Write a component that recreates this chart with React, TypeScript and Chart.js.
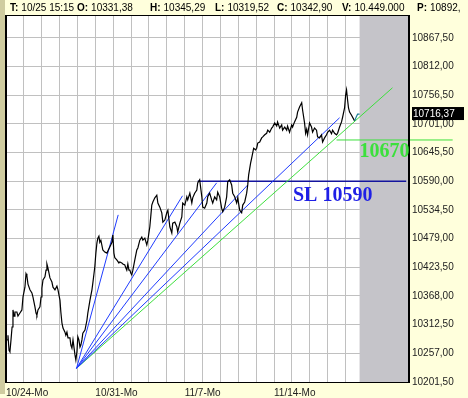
import React, { useEffect, useRef } from 'react';
import { Chart, registerables } from 'chart.js';

Chart.register(...registerables);

// ---- data ----
const headerKeys = ['T:', 'O:', 'H:', 'L:', 'C:', 'V:', 'P:'];
const headerValues = ['10/25 15:15', '10331,38', '10345,29', '10319,52', '10342,90', '10.449.000', '10892,'];

const dateTickDays = [0, 5, 10, 15];
const dateTickLabels = ['10/24-Mo', '10/31-Mo', '11/7-Mo', '11/14-Mo'];

const priceTicks = [10201.5, 10257, 10312.5, 10368, 10423.5, 10479, 10534.5, 10590, 10645.5, 10701, 10756.5, 10812, 10867.5];
const priceMin = 10201.5;
const priceMax = 10910;
const dayMax = 22.5;

const priceDays = [
  0.06, 0.11, 0.17, 0.22, 0.28, 0.34, 0.39, 0.45, 0.50, 0.61,
  0.67, 0.78, 0.89, 0.95, 1.06, 1.12, 1.17, 1.23, 1.34, 1.45,
  1.51, 1.62, 1.68, 1.73, 1.79, 1.90, 1.96, 2.01, 2.07, 2.18,
  2.24, 2.29, 2.35, 2.46, 2.57, 2.63, 2.74, 2.85, 2.91, 3.02,
  3.07, 3.13, 3.19, 3.30, 3.35, 3.41, 3.47, 3.58, 3.63, 3.69,
  3.75, 3.86, 3.91, 3.97, 4.02, 4.08, 4.14, 4.19, 4.25, 4.30,
  4.42, 4.53, 4.58, 4.70, 4.81, 4.86, 4.97, 5.03, 5.09, 5.14,
  5.20, 5.25, 5.31, 5.42, 5.53, 5.65, 5.70, 5.81, 5.93, 5.98,
  6.04, 6.09, 6.20, 6.32, 6.37, 6.48, 6.54, 6.65, 6.71, 6.76,
  6.82, 6.88, 6.93, 6.99, 7.04, 7.10, 7.21, 7.32, 7.38, 7.49,
  7.60, 7.66, 7.77, 7.88, 7.94, 8.05, 8.11, 8.16, 8.22, 8.33,
  8.44, 8.50, 8.61, 8.72, 8.78, 8.89, 9.00, 9.06, 9.17, 9.28,
  9.33, 9.45, 9.56, 9.61, 9.73, 9.84, 9.89, 10.01, 10.12, 10.17,
  10.29, 10.40, 10.45, 10.56, 10.68, 10.73, 10.84, 10.96, 11.01, 11.12,
  11.24, 11.29, 11.40, 11.51, 11.57, 11.68, 11.79, 11.85, 11.96, 12.07,
  12.13, 12.24, 12.35, 12.41, 12.52, 12.63, 12.69, 12.80, 12.91, 12.97,
  13.08, 13.19, 13.25, 13.36, 13.47, 13.53, 13.58, 13.69, 13.75, 13.81,
  13.86, 13.97, 14.03, 14.09, 14.20, 14.31, 14.37, 14.48, 14.59, 14.65,
  14.76, 14.87, 14.92, 15.04, 15.15, 15.20, 15.32, 15.43, 15.48, 15.60,
  15.71, 15.76, 15.87, 15.99, 16.04, 16.15, 16.27, 16.32, 16.43, 16.55,
  16.60, 16.71, 16.77, 16.83, 16.88, 16.99, 17.10, 17.16, 17.27, 17.38,
  17.44, 17.55, 17.66, 17.72, 17.83, 17.94, 18.00, 18.11, 18.22, 18.28,
  18.39, 18.50, 18.56, 18.67, 18.78, 18.84, 18.95, 19.01, 19.06, 19.12,
  19.17, 19.23, 19.34, 19.40, 19.51, 19.62, 19.68, 19.79,
];

const priceValues = [
  10283, 10292, 10263, 10260, 10283, 10308, 10341, 10329, 10337, 10337,
  10329, 10335, 10341, 10366, 10385, 10411, 10407, 10391, 10380, 10374,
  10366, 10347, 10335, 10331, 10341, 10347, 10366, 10383, 10399, 10405,
  10418, 10430, 10422, 10403, 10395, 10385, 10380, 10387, 10380, 10360,
  10337, 10316, 10306, 10298, 10292, 10298, 10287, 10287, 10273, 10267,
  10283, 10254, 10244, 10260, 10289, 10283, 10269, 10273, 10283, 10296,
  10302, 10321, 10335, 10360, 10380, 10393, 10424, 10451, 10471, 10480,
  10484, 10472, 10476, 10457, 10453, 10451, 10455, 10463, 10472, 10486,
  10451, 10442, 10438, 10432, 10434, 10432, 10430, 10428, 10422, 10418,
  10430, 10418, 10418, 10412, 10409, 10418, 10438, 10457, 10461, 10476,
  10482, 10476, 10480, 10467, 10476, 10502, 10525, 10544, 10550, 10558,
  10563, 10548, 10540, 10529, 10511, 10515, 10529, 10534, 10502, 10490,
  10509, 10511, 10502, 10492, 10509, 10521, 10548, 10544, 10560, 10554,
  10567, 10548, 10558, 10567, 10573, 10587, 10593, 10560, 10540, 10538,
  10548, 10560, 10567, 10554, 10548, 10560, 10554, 10569, 10560, 10538,
  10531, 10540, 10560, 10589, 10593, 10583, 10567, 10560, 10548, 10558,
  10534, 10529, 10544, 10550, 10567, 10583, 10602, 10625, 10635, 10645,
  10654, 10651, 10654, 10664, 10666, 10674, 10676, 10680, 10683, 10689,
  10685, 10693, 10695, 10703, 10697, 10705, 10693, 10699, 10689, 10695,
  10689, 10697, 10685, 10699, 10695, 10705, 10714, 10724, 10734, 10742,
  10728, 10703, 10683, 10691, 10680, 10703, 10695, 10685, 10693, 10689,
  10676, 10674, 10680, 10666, 10674, 10680, 10685, 10689, 10682, 10689,
  10683, 10680, 10683, 10695, 10705, 10714, 10732, 10757, 10767, 10747,
  10732, 10724, 10718, 10714, 10707, 10716, 10720, 10720,
];

const lastPrice = 10716.37;

const fanOriginDay = 3.95;
const fanOriginValue = 10228;
const fanEndDays = [6.28, 9.88, 11.79, 13.53, 18.67];
const fanEndValues = [10525, 10562, 10587, 10583, 10713];

const trendEndDay = 21.63;
const trendEndValue = 10771;

const stopLevel = 10590;
const stopStartDay = 10.73;
const stopEndDay = 22.4;

const targetLevel = 10670;
const targetStartDay = 18.5;
const targetEndDay = 25;

const fmt = (v: number) => v.toFixed(2).replace('.', ',');

const SANS = '"Liberation Sans", Arial, sans-serif';
const SERIF = '"Liberation Serif", "Times New Roman", serif';

export default function App() {
  const ref = useRef<HTMLCanvasElement>(null);

  useEffect(() => {
    const canvas = ref.current!;
    const futureStart = priceDays[priceDays.length - 1];

    const decorPlugin = {
      id: 'decor',
      beforeDraw(chart: any) {
        const { ctx, chartArea } = chart;
        ctx.save();
        ctx.fillStyle = '#ffffdc';
        ctx.fillRect(0, 0, chart.width, chart.height);
        ctx.fillStyle = '#cfcca0';
        ctx.fillRect(0, 0, 5, chart.height - 4);
        ctx.fillStyle = '#ffffff';
        ctx.fillRect(chartArea.left, chartArea.top, chartArea.right - chartArea.left, chartArea.bottom - chartArea.top);
        ctx.restore();
      },
      beforeDatasetsDraw(chart: any) {
        const { ctx, chartArea, scales } = chart;
        const gx = scales.x.getPixelForValue(futureStart);
        ctx.save();
        ctx.fillStyle = '#c5c4c9';
        ctx.fillRect(gx, chartArea.top, chartArea.right - gx, chartArea.bottom - chartArea.top);
        ctx.restore();
      },
      afterDraw(chart: any) {
        const { ctx, chartArea, scales } = chart;
        const { left, right, top, bottom } = chartArea;
        ctx.save();
        // frame
        ctx.fillStyle = '#000';
        ctx.fillRect(left - 1, top - 1, 2, bottom - top + 2);
        ctx.fillRect(right, top - 1, 2, bottom - top + 2);
        ctx.fillRect(left - 1, top - 1, right - left + 3, 1);
        ctx.fillRect(left - 1, bottom, right - left + 3, 1);

        // header
        const headerX = [10, 77, 150, 215, 277, 342, 417];
        ctx.textBaseline = 'middle';
        ctx.textAlign = 'left';
        headerKeys.forEach((k, i) => {
          ctx.font = `bold 10px ${SANS}`;
          ctx.fillStyle = '#000';
          ctx.fillText(k, headerX[i], 8);
          const w = ctx.measureText(k).width;
          ctx.font = `10px ${SANS}`;
          ctx.fillText(headerValues[i], headerX[i] + w + 3, 8);
        });

        // last price tag
        const py = scales.y.getPixelForValue(lastPrice) - 2;
        ctx.fillStyle = '#000';
        ctx.fillRect(right + 4, py - 7, 52, 13);
        ctx.fillStyle = '#fff';
        ctx.font = `10px ${SANS}`;
        ctx.fillText(fmt(lastPrice), right + 5, py);

        // annotations
        ctx.font = `bold 20px ${SERIF}`;
        ctx.fillStyle = '#3ce03c';
        ctx.fillText(String(targetLevel), scales.x.getPixelForValue(futureStart), scales.y.getPixelForValue(targetLevel) + 12);
        ctx.fillStyle = '#1f1fe6';
        ctx.fillText('SL ' + stopLevel, 293, scales.y.getPixelForValue(stopLevel) + 15);
        ctx.restore();
      },
    };

    const line = (pts: { x: number; y: number }[], color: string, width: number, extra: any = {}) => ({
      data: pts,
      borderColor: color,
      borderWidth: width,
      pointRadius: 0,
      tension: 0,
      fill: false,
      ...extra,
    });

    const datasets: any[] = [
      line(
        priceDays.map((d, i) => ({ x: d, y: priceValues[i] })),
        '#000',
        1.2,
        {
          segment: {
            borderColor: (c: any) => (c.p0.parsed.x >= 19.5 ? '#1b7f95' : '#000'),
          },
        }
      ),
      ...fanEndDays.map((d, i) =>
        line(
          [
            { x: fanOriginDay, y: fanOriginValue },
            { x: d, y: fanEndValues[i] },
          ],
          '#1f3cff',
          1
        )
      ),
      line(
        [
          { x: fanOriginDay, y: fanOriginValue },
          { x: trendEndDay, y: trendEndValue },
        ],
        '#3ce03c',
        1
      ),
      line(
        [
          { x: stopStartDay, y: stopLevel },
          { x: stopEndDay, y: stopLevel },
        ],
        '#14149e',
        1.5
      ),
      line(
        [
          { x: targetStartDay, y: targetLevel },
          { x: targetEndDay, y: targetLevel },
        ],
        '#3ce03c',
        1,
        { clip: false }
      ),
    ];

    const chart = new Chart(canvas, {
      type: 'line',
      data: { datasets },
      options: {
        animation: false,
        responsive: false,
        devicePixelRatio: 1,
        events: [],
        layout: { padding: { left: 6, top: 16, right: 0, bottom: 0 } },
        plugins: { legend: { display: false }, tooltip: { enabled: false } },
        scales: {
          x: {
            type: 'linear',
            min: 0,
            max: dayMax,
            afterBuildTicks: (s: any) => {
              const t = [];
              for (let i = 0; i <= Math.floor(dayMax); i++) t.push({ value: i });
              s.ticks = t;
            },
            afterFit: (s: any) => {
              s.height = 16;
            },
            border: { display: false },
            grid: { color: '#c0c0c0', drawTicks: false, lineWidth: 1 },
            ticks: {
              autoSkip: false,
              maxRotation: 0,
              minRotation: 0,
              align: 'start',
              padding: 5,
              color: '#222',
              font: { family: SANS, size: 10 },
              callback: (v: any) => {
                const idx = dateTickDays.indexOf(Number(v));
                return idx >= 0 ? dateTickLabels[idx] : '';
              },
            },
          },
          y: {
            type: 'linear',
            position: 'right',
            min: priceMin,
            max: priceMax,
            afterBuildTicks: (s: any) => {
              s.ticks = priceTicks.map((v) => ({ value: v }));
            },
            afterFit: (s: any) => {
              s.width = 60;
            },
            border: { display: false },
            grid: { color: '#c0c0c0', drawTicks: false, lineWidth: 1 },
            ticks: {
              padding: 4,
              color: '#222',
              font: { family: SANS, size: 10 },
              callback: (v: any) => fmt(Number(v)),
            },
          },
        },
      } as any,
      plugins: [decorPlugin],
    });

    return () => chart.destroy();
  }, []);

  return (
    <div style={{ position: 'fixed', left: 0, top: 0, width: 468, height: 398 }}>
      <canvas ref={ref} width={468} height={398} style={{ display: 'block' }} />
    </div>
  );
}
